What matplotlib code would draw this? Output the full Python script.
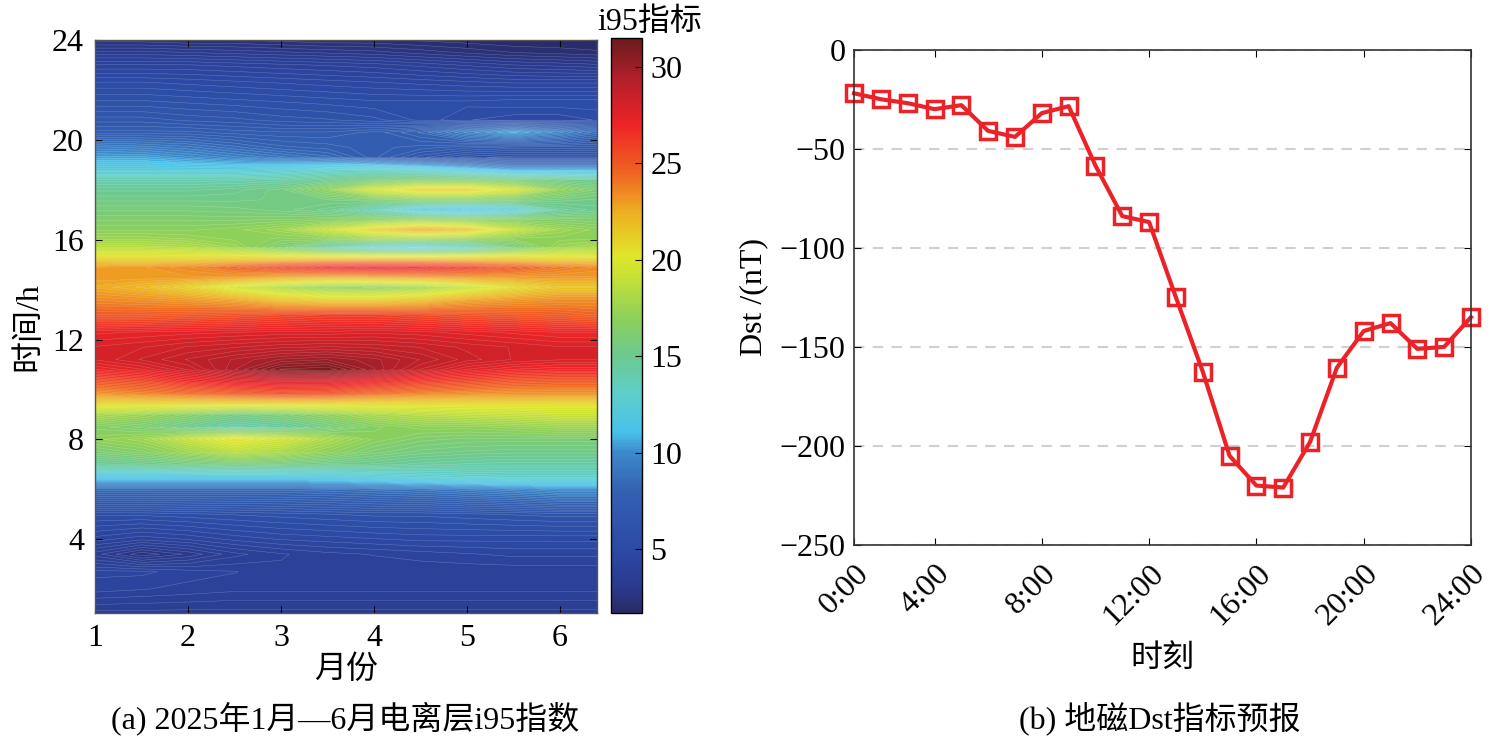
# i95 ionosphere index (contour) and Dst forecast, two panels side by side

import numpy as np
import matplotlib
matplotlib.use('Agg')
import matplotlib.pyplot as plt
from matplotlib.colors import LinearSegmentedColormap, Normalize
import matplotlib.cm as cm

plt.rcParams['font.family'] = ['Liberation Serif', 'Noto Sans CJK SC']
plt.rcParams['axes.unicode_minus'] = True

# ---- panel (a) data: i95 on a month x hour grid ----
months_grid = [1, 1.5, 2, 2.5, 3, 3.5, 4, 4.5, 5, 5.5, 6, 6.4]
hours_grid = [1, 2, 2.7, 3.4, 4, 5, 6, 6.5, 7, 7.5, 8, 8.5, 9, 9.4, 9.8,
              10.3, 10.8, 11.2, 11.7, 12.3, 13, 13.6, 14.1, 14.5, 14.9, 15.3,
              15.7, 16.05, 16.4, 16.8, 17.2, 17.6, 18, 18.4, 18.8, 19.3, 19.7,
              20.3, 20.8, 21.5, 22.3, 23, 23.5, 24]
i95 = [
    [3.3, 3.3, 3.3, 3.3, 3.3, 3.3, 3.3, 3.3, 3.3, 3.3, 3.3, 3.3],
    [4.3, 4.2, 4.1, 4.0, 4.0, 4.0, 4.0, 4.0, 4.0, 4.0, 4.0, 4.0],
    [4.5, 4.5, 4.3, 4.2, 4.0, 4.0, 4.0, 4.0, 4.0, 4.0, 4.0, 4.0],
    [3.3, 2.5, 3.0, 3.6, 3.9, 4.1, 4.2, 4.3, 4.4, 4.5, 4.5, 4.5],
    [4.3, 4.0, 4.2, 4.5, 4.7, 4.8, 4.9, 5.0, 5.0, 5.0, 5.0, 5.0],
    [5.5, 5.5, 5.6, 5.7, 5.8, 5.9, 6.0, 6.0, 6.1, 6.2, 6.3, 6.3],
    [8.5, 8.5, 8.5, 8.5, 8.5, 8.6, 8.8, 9.0, 9.3, 9.6, 10.0, 10.0],
    [11.5, 11.5, 11.5, 11.5, 11.5, 11.8, 12.2, 12.5, 12.8, 13.0, 13.0, 13.0],
    [14.5, 14.8, 15.2, 15.5, 15.3, 15.0, 14.8, 14.5, 14.3, 14.2, 14.2, 14.2],
    [16.0, 16.5, 17.5, 18.5, 18.0, 17.0, 16.0, 15.5, 15.3, 15.2, 15.2, 15.2],
    [17.0, 17.5, 19.0, 20.5, 19.5, 18.0, 16.8, 16.2, 16.0, 16.0, 16.0, 16.0],
    [16.5, 16.0, 15.0, 14.0, 14.5, 15.5, 16.5, 17.0, 17.0, 17.2, 17.5, 17.5],
    [18.0, 17.5, 16.5, 15.5, 16.0, 17.0, 18.0, 18.5, 18.8, 19.0, 19.2, 19.2],
    [20.5, 20.5, 20.5, 20.5, 20.5, 20.5, 20.5, 20.5, 20.5, 20.5, 20.5, 20.5],
    [23.0, 23.5, 24.0, 24.5, 25.0, 24.8, 24.0, 23.5, 23.2, 23.0, 23.0, 23.0],
    [25.0, 25.5, 26.5, 27.2, 27.5, 27.5, 26.8, 26.0, 25.5, 25.0, 24.8, 24.8],
    [27.0, 27.5, 28.3, 29.5, 30.8, 31.0, 29.8, 28.5, 27.5, 27.0, 26.8, 26.8],
    [27.8, 28.3, 28.8, 29.3, 29.8, 30.0, 29.6, 29.0, 28.4, 28.0, 27.8, 27.8],
    [27.8, 28.0, 28.3, 28.5, 28.7, 28.8, 28.7, 28.5, 28.2, 28.0, 27.8, 27.8],
    [27.2, 27.3, 27.4, 27.5, 27.6, 27.6, 27.7, 27.6, 27.4, 27.2, 27.0, 27.0],
    [24.8, 24.8, 25.0, 25.2, 25.5, 25.8, 25.8, 25.5, 25.2, 25.0, 24.8, 24.5],
    [23.5, 23.3, 23.0, 22.5, 21.5, 21.0, 21.0, 21.5, 22.5, 23.0, 23.3, 23.3],
    [22.5, 22.0, 21.0, 19.5, 18.0, 17.0, 16.8, 17.5, 19.0, 20.5, 21.5, 21.5],
    [23.0, 23.0, 23.0, 23.0, 22.5, 22.3, 22.5, 22.8, 23.0, 23.0, 23.0, 23.0],
    [22.8, 23.0, 23.5, 24.5, 25.8, 27.0, 27.5, 27.2, 26.2, 25.0, 24.0, 23.5],
    [20.5, 20.5, 20.5, 20.5, 20.5, 20.5, 20.5, 20.5, 20.5, 20.5, 20.3, 20.3],
    [18.5, 18.5, 18.3, 17.5, 16.0, 14.0, 12.5, 12.0, 13.0, 15.5, 17.5, 18.0],
    [17.5, 17.5, 17.3, 17.0, 16.8, 17.0, 17.5, 17.5, 17.2, 17.0, 17.0, 17.0],
    [16.8, 16.8, 16.8, 17.0, 17.5, 19.0, 21.0, 22.5, 21.5, 19.0, 17.5, 17.0],
    [16.3, 16.3, 16.3, 16.3, 16.4, 16.5, 16.7, 17.0, 16.8, 16.5, 16.3, 16.2],
    [15.8, 15.8, 15.8, 15.7, 15.5, 15.0, 13.5, 11.5, 10.8, 12.0, 14.5, 15.0],
    [15.3, 15.3, 15.3, 15.3, 15.4, 15.6, 16.0, 16.3, 16.3, 16.0, 15.5, 15.3],
    [14.8, 14.8, 14.8, 15.0, 15.5, 17.0, 19.5, 21.0, 21.0, 19.5, 17.0, 16.0],
    [14.0, 14.0, 14.0, 14.0, 14.2, 14.8, 15.5, 16.0, 16.0, 15.5, 15.0, 14.8],
    [12.0, 12.0, 12.0, 12.0, 12.3, 12.8, 13.0, 12.5, 11.5, 10.5, 10.5, 10.5],
    [10.5, 10.5, 10.0, 9.5, 9.0, 8.5, 7.5, 6.5, 5.8, 5.5, 5.5, 5.5],
    [9.5, 9.3, 9.0, 8.5, 8.0, 7.8, 7.5, 7.3, 7.0, 6.8, 6.8, 6.8],
    [7.5, 7.5, 7.5, 7.3, 7.2, 7.2, 7.5, 8.2, 9.5, 10.5, 9.5, 8.5],
    [6.8, 6.8, 6.6, 6.5, 6.3, 6.2, 6.0, 5.6, 5.2, 5.0, 5.0, 5.2],
    [6.0, 6.0, 5.9, 5.8, 5.7, 5.6, 5.5, 5.5, 5.5, 5.6, 5.6, 5.6],
    [5.2, 5.2, 5.1, 5.0, 4.9, 4.8, 4.7, 4.6, 4.5, 4.4, 4.4, 4.4],
    [4.2, 4.2, 4.2, 4.1, 4.0, 3.9, 3.8, 3.6, 3.4, 3.2, 3.1, 3.0],
    [3.3, 3.3, 3.2, 3.1, 3.0, 2.9, 2.8, 2.6, 2.4, 2.2, 2.1, 2.0],
    [2.3, 2.3, 2.2, 2.2, 2.1, 2.0, 2.0, 1.9, 1.8, 1.7, 1.7, 1.7],
]

# ---- panel (b) data: Dst forecast ----
dst_hours = list(range(1, 25))
dst_values = [-22, -25, -27, -30, -28, -41, -44, -32, -28.5, -58.5, -84, -87,
              -125, -162.5, -205, -220, -221, -198, -160.5, -142, -138, -151,
              -150, -135]
dst_ticks = [1, 4, 8, 12, 16, 20, 24]
dst_ticklabels = ['0:00', '4:00', '8:00', '12:00', '16:00', '20:00', '24:00']

# colormap resembling the reference colorbar
cmap_nodes = [
    (1.7, '#2a2b66'), (3.0, '#2b3a8e'), (5.0, '#2c4aa5'), (8.0, '#3461b2'),
    (10.0, '#3c8acb'), (11.0, '#48c0ea'), (13.0, '#5ecfcc'), (15.0, '#6dc990'),
    (17.0, '#8dd05a'), (19.0, '#c4e038'), (20.2, '#e0e62a'), (22.5, '#eeae22'),
    (24.5, '#f06522'), (27.0, '#ee2427'), (29.5, '#b01f2a'), (31.5, '#6b1b1e'),
]
vmin, vmax = 1.7, 31.5
cmap = LinearSegmentedColormap.from_list(
    'i95', [((v - vmin) / (vmax - vmin), c) for v, c in cmap_nodes])
norm = Normalize(vmin=vmin, vmax=vmax)

fig = plt.figure(figsize=(15.01, 7.42), dpi=100)
fs = 23

# ---------------- left panel ----------------
ax1 = fig.add_axes([0.0633, 0.174, 0.3345, 0.772])
X, Y = np.meshgrid(months_grid, hours_grid)
Z = np.array(i95)
levels = np.linspace(vmin, vmax, 121)
ax1.contourf(X, Y, Z, levels=levels, cmap=cmap, norm=norm, antialiased=False)
ax1.contour(X, Y, Z, levels=levels, colors='white', linewidths=0.3,
            alpha=0.3)
ax1.set_xlim(1, 6.4)
ax1.set_ylim(1.05, 24)
ax1.set_xticks([1, 2, 3, 4, 5, 6])
ax1.set_yticks([4, 8, 12, 16, 20, 24])
ax1.tick_params(direction='in', top=True, right=True, labelsize=fs, length=5,
                pad=8)
ax1.set_xlabel('月份', fontsize=fs, labelpad=2)
ax1.set_ylabel('时间/h', fontsize=fs, labelpad=6)
for s in ax1.spines.values():
    s.set_linewidth(1.0)
    s.set_color('#555555')

cax = fig.add_axes([0.407, 0.174, 0.0207, 0.775])
cb = fig.colorbar(cm.ScalarMappable(norm=norm, cmap=cmap), cax=cax)
cb.set_ticks([5, 10, 15, 20, 25, 30])
cb.ax.tick_params(direction='in', labelsize=fs, length=5, pad=6)
cb.outline.set_linewidth(1.0)
fig.text(0.433, 0.97, 'i95指标', fontsize=fs, ha='center', va='center')

fig.text(0.23, 0.032, '(a) 2025年1月—6月电离层i95指数', fontsize=fs,
         ha='center', va='center')

# ---------------- right panel ----------------
ax2 = fig.add_axes([0.569, 0.2655, 0.411, 0.6675])
ax2.plot(dst_hours, dst_values, color='#ec2229', linewidth=3, marker='s',
         markersize=11, markerfacecolor='none', markeredgewidth=2.5, clip_on=False)
ax2.set_xlim(1, 24)
ax2.set_ylim(-250, 0)
ax2.set_yticks([0, -50, -100, -150, -200, -250])
ax2.set_xticks(dst_ticks)
ax2.set_xticklabels(dst_ticklabels, rotation=45, ha='right',
                    rotation_mode='anchor')
ax2.yaxis.grid(True, linestyle=(0, (5, 4)), color='#d0d0d0', linewidth=1.5)
ax2.set_axisbelow(True)
ax2.tick_params(direction='in', top=True, right=True, labelsize=fs, length=5,
                pad=6)
ax2.tick_params(axis='x', pad=10)
ax2.set_xlabel('时刻', fontsize=fs, labelpad=10)
ax2.set_ylabel('Dst /(nT)', fontsize=fs, labelpad=8)
for s in ax2.spines.values():
    s.set_linewidth(1.2)
    s.set_color('#333333')

fig.text(0.773, 0.032, '(b) 地磁Dst指标预报', fontsize=fs, ha='center',
         va='center')

plt.savefig('out.png', dpi=100)
plt.close()
